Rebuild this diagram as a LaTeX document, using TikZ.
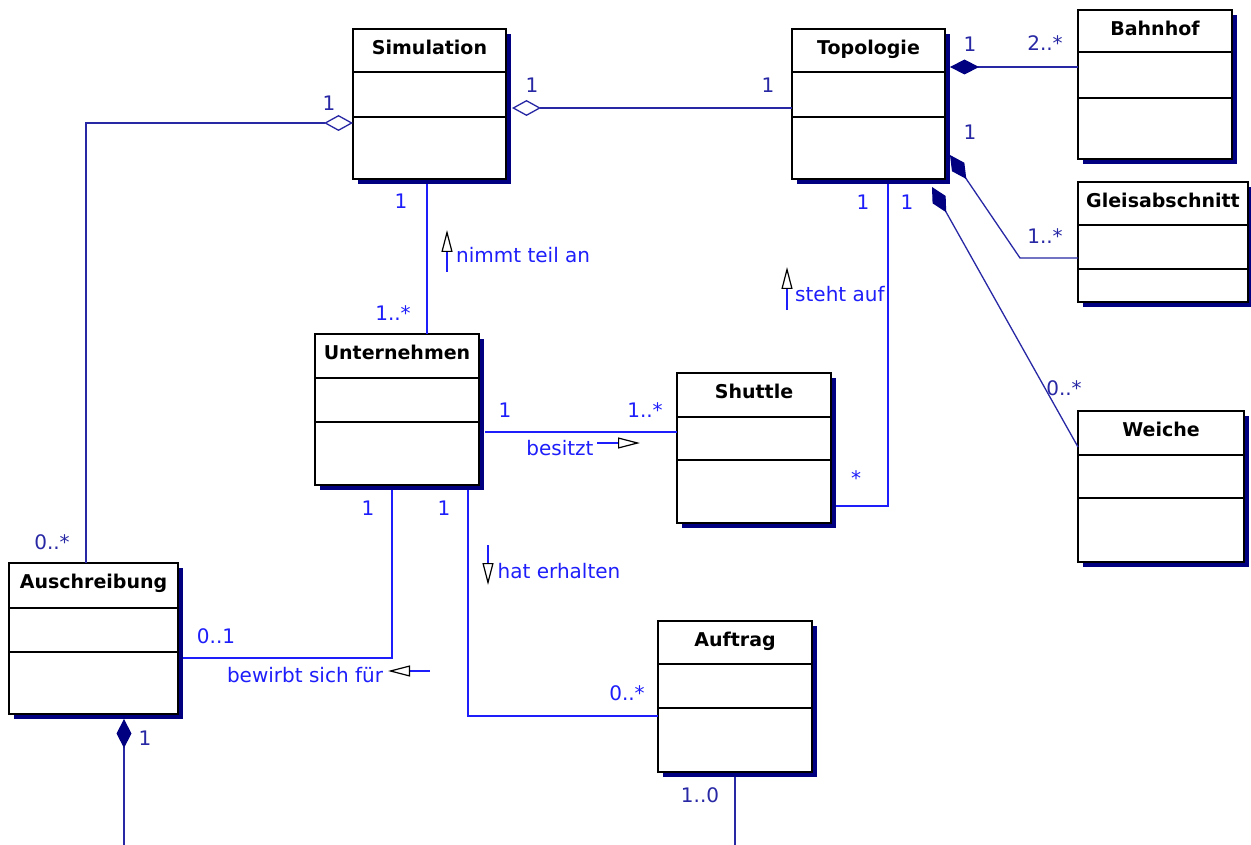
\documentclass[tikz,border=0pt]{standalone}
\usepackage{fontspec}
\setmainfont{DejaVu Sans}
\usetikzlibrary{arrows.meta,calc}
\definecolor{navyc}{RGB}{40,40,165}
\definecolor{brightc}{RGB}{30,30,250}
\definecolor{shadowc}{RGB}{0,0,128}
\tikzset{
  classbox/.style={draw=black, line width=1.7pt, fill=white, inner sep=0pt, outer sep=0pt},
  shadowbox/.style={fill=shadowc, draw=none},
  divider/.style={draw=black, line width=1.5pt},
  ctitle/.style={font=\fontsize{19}{21}\selectfont\bfseries, anchor=base, inner sep=0pt},
  navyline/.style={draw=navyc, line width=1.3pt},
  brightline/.style={draw=brightc, line width=1.4pt},
  mult/.style={font=\fontsize{20}{22}\selectfont, inner sep=0pt},
  nmult/.style={mult, text=navyc},
  bmult/.style={mult, text=brightc},
  aggr/.style={-{Diamond[open, length=29pt, width=16pt, line width=1.3pt]}},
  comp/.style={-{Diamond[color=shadowc, length=29pt, width=15pt]}},
  dirarrow/.style={brightline, -{Triangle[color=black, fill=white, length=22pt, width=11pt, line width=1.2pt]}},
}
\newcommand\umlclass[8]{%
  \fill[shadowbox] (#2+5,#3+5) rectangle (#2+#4+5,#3+#5+5);
  \node[classbox, minimum width=#4pt, minimum height=#5pt, anchor=north west] (#1) at (#2,#3) {};
  \draw[divider] (#2,#3+#6) -- (#2+#4,#3+#6);
  \draw[divider] (#2,#3+#7) -- (#2+#4,#3+#7);
  \node[ctitle] (#1-title) at (#2+#4/2,#3+25.5) {#8};
}
\begin{document}
\begin{tikzpicture}[x=1pt,y=-1pt]
\useasboundingbox (0,0) rectangle (1251,845);
\fill[white] (0,0) rectangle (1251,845);

% classes
\umlclass{sim}{353}{29}{153}{150}{43}{88}{Simulation}
\umlclass{topo}{792}{29}{153}{150}{43}{88}{Topologie}
\umlclass{bahn}{1078}{10}{154}{149}{42}{88}{Bahnhof}
\umlclass{gleis}{1078}{182}{170}{120}{43}{87}{Gleisabschnitt}
\umlclass{weiche}{1078}{411}{166}{151}{44}{87}{Weiche}
\umlclass{unt}{315}{334}{164}{151}{44}{88}{Unternehmen}
\umlclass{shut}{677}{373}{154}{150}{44}{87}{Shuttle}
\umlclass{aus}{9}{563}{169}{151}{45}{89}{Auschreibung}
\umlclass{auf}{658}{621}{154}{151}{43}{87}{Auftrag}

% connectors
\draw[navyline, aggr] ($(topo.north west)+(0,79)$) -- ($(sim.north east)+(6,79)$);
\draw[navyline, aggr] ($(aus.north west)+(77,0)$) |- ($(sim.north west)+(0,94)$);
\draw[brightline] ($(sim.south west)+(74,5)$) -- ($(unt.north west)+(112,0)$);
\draw[navyline, comp] ($(bahn.north west)+(0,57)$) -- ($(topo.north east)+(5,38)$);
\draw[navyline, comp] ($(gleis.north west)+(0,76)$) -- ++(-58,0) -- ($(topo.north east)+(5,126)$);
\draw[navyline, comp] ($(weiche.north west)+(0,36)$) -- ($(topo.south east)+(-13,8)$);
\draw[brightline] ($(shut.north east)+(5,133)$) -| ($(topo.south east)+(-57,5)$);
\draw[brightline] ($(unt.north east)+(6,98)$) -- ($(shut.north west)+(0,59)$);
\draw[brightline] ($(unt.south west)+(153,5)$) |- ($(auf.north west)+(0,95)$);
\draw[brightline] ($(unt.south west)+(77,5)$) |- ($(aus.north east)+(5,95)$);
\coordinate (ausend) at (124,845);
\draw[navyline, comp] (ausend) -- ($(aus.south west)+(115,5)$);
\coordinate (aufend) at (735,845);
\draw[navyline] ($(auf.south west)+(77,5)$) -- (aufend);

% direction arrows of association names
\coordinate (nta0) at (447,272); \coordinate (nta1) at (447,230);
\draw[dirarrow] (nta0) -- (nta1);
\coordinate (sta0) at (787,310); \coordinate (sta1) at (787,267);
\draw[dirarrow] (sta0) -- (sta1);
\coordinate (bea0) at (597,443); \coordinate (bea1) at (640,443);
\draw[dirarrow] (bea0) -- (bea1);
\coordinate (bwa0) at (430,671); \coordinate (bwa1) at (388,671);
\draw[dirarrow] (bwa0) -- (bwa1);
\coordinate (hea0) at (488,545); \coordinate (hea1) at (488,585);
\draw[dirarrow] (hea0) -- (hea1);

% association names
\node[bmult, anchor=west] (lnimmt) at (456,255) {nimmt teil an};
\node[bmult, anchor=west] (lsteht) at (795,294) {steht auf};
\node[bmult] (lbesitzt) at (560,448) {besitzt};
\node[bmult] (lbewirbt) at (305,675) {bewirbt sich für};
\node[bmult] (lhat) at (559,571) {hat erhalten};

% multiplicities
\node[nmult] (m1) at (532,85) {1};
\node[nmult] (m2) at (768,85) {1};
\node[nmult] (m3) at (329,103) {1};
\node[nmult] (m4) at (52,542) {0..*};
\node[bmult] (m5) at (401,201) {1};
\node[bmult] (m6) at (393,313) {1..*};
\node[nmult] (m7) at (970,44) {1};
\node[nmult] (m8) at (1045,43) {2..*};
\node[nmult] (m9) at (970,132) {1};
\node[nmult] (m10) at (1045,236) {1..*};
\node[nmult] (m11) at (1064,388) {0..*};
\node[bmult] (m12) at (863,202) {1};
\node[bmult] (m13) at (907,202) {1};
\node[bmult] (m14) at (856,478) {*};
\node[bmult] (m15) at (505,410) {1};
\node[bmult] (m16) at (645,410) {1..*};
\node[bmult] (m17) at (368,508) {1};
\node[bmult] (m18) at (444,508) {1};
\node[bmult] (m19) at (216,636) {0..1};
\node[bmult] (m20) at (627,693) {0..*};
\node[nmult] (m21) at (145,738) {1};
\node[nmult] (m22) at (700,795) {1..0};
\end{tikzpicture}
\end{document}
